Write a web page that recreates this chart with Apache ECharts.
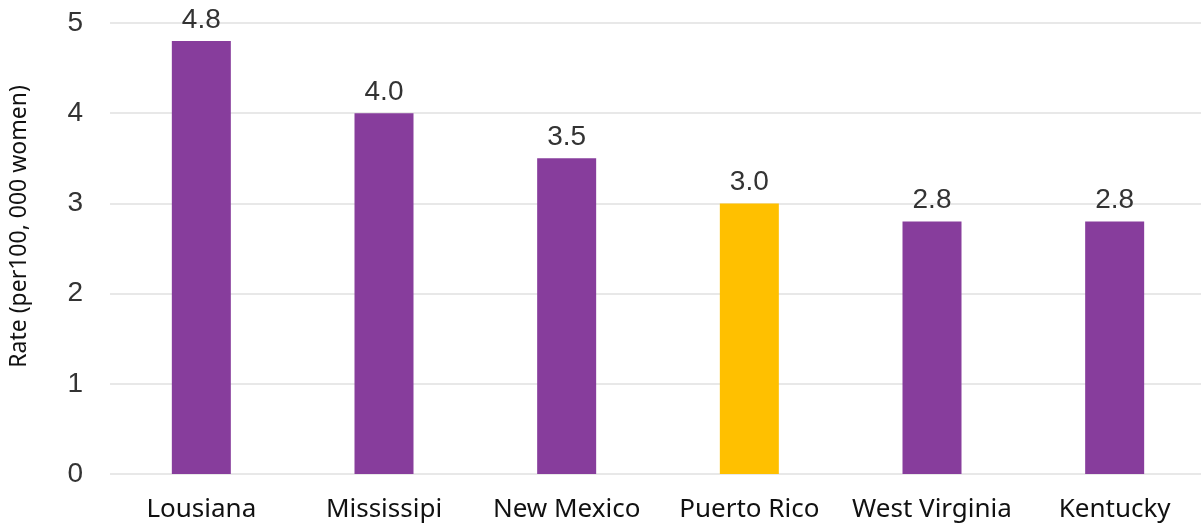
<!DOCTYPE html>
<html>
<head>
<meta charset="utf-8">
<script src="https://cdn.jsdelivr.net/npm/echarts@6/dist/echarts.min.js"></script>
<style>
  html, body { margin: 0; padding: 0; background: #fff; }
  #chart { width: 1201px; height: 529px; }
</style>
</head>
<body>
<div id="chart"></div>
<script>
// 数据
var states = ['Lousiana', 'Mississipi', 'New Mexico', 'Puerto Rico', 'West Virginia', 'Kentucky']
var rates = [4.8, 4.0, 3.5, 3.0, 2.8, 2.8]
var highlight = 'Puerto Rico'
var yTicks = [0, 1, 2, 3, 4, 5]

var purple = '#873d9c'
var yellow = '#ffc000'

var myChart = echarts.init(document.getElementById('chart'))

var option = {
  animation: false,
  grid: {
    left: 110,
    top: 23,
    bottom: 55,
    width: 1096,
    outerBoundsMode: 'none'
  },
  xAxis: {
    type: 'category',
    data: states,
    axisLine: { show: false },
    axisTick: { show: false },
    axisLabel: {
      interval: 0,
      margin: 23,
      fontFamily: 'Noto Sans',
      fontSize: 26,
      color: '#111'
    }
  },
  yAxis: {
    type: 'value',
    min: yTicks[0],
    max: yTicks[yTicks.length - 1],
    interval: 1,
    name: 'Rate (per100, 000 women)',
    nameLocation: 'middle',
    nameGap: 79,
    nameTextStyle: {
      fontFamily: 'Noto Sans',
      fontSize: 23,
      color: '#111',
      padding: [0, 0, 0, 44]
    },
    axisLine: { show: false },
    axisTick: { show: false },
    axisLabel: {
      margin: 27,
      fontFamily: 'Liberation Sans',
      fontSize: 28,
      color: '#333'
    },
    splitLine: {
      lineStyle: { color: '#e8e8e8', width: 2 }
    }
  },
  series: [{
    type: 'bar',
    barWidth: 59,
    data: rates.map(function (v, i) {
      return {
        value: v,
        itemStyle: { color: states[i] === highlight ? yellow : purple }
      }
    }),
    label: {
      show: true,
      position: 'top',
      distance: 7,
      fontFamily: 'Liberation Sans',
      fontSize: 28,
      color: '#333',
      formatter: function (p) { return p.value.toFixed(1) }
    }
  }]
}

myChart.setOption(option)
</script>
</body>
</html>
